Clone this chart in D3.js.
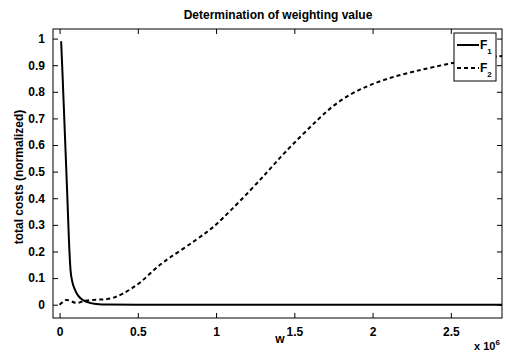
<!DOCTYPE html>
<html><head><meta charset="utf-8">
<script src="https://cdn.jsdelivr.net/npm/d3@7"></script>
<style>body{margin:0;background:#fff}svg{display:block}text{font-family:"Liberation Sans",Arial,sans-serif;fill:#000}</style>
</head><body>
<svg id="c" width="506" height="352"></svg>
<script>
const title = "Determination of weighting value";
const xLabel = "w";
const yLabel = "total costs (normalized)";
const xTicks = [0, 0.5, 1, 1.5, 2, 2.5];
const yTicks = [0, 0.1, 0.2, 0.3, 0.4, 0.5, 0.6, 0.7, 0.8, 0.9, 1];
const seriesNames = ["F1", "F2"];
// x in units of 1e6
const f1X = [0.01, 0.02, 0.03, 0.04, 0.05, 0.06, 0.07, 0.08, 0.1, 0.12, 0.15, 0.2, 0.25, 0.3, 0.5, 1.0, 1.5, 2.0, 2.5, 2.83];
const f1Y = [0.99, 0.85, 0.70, 0.55, 0.40, 0.24, 0.13, 0.09, 0.054, 0.033, 0.017, 0.006, 0.002, 0.001, 0, 0, 0, 0, 0, 0];
const f2X = [0, 0.02, 0.04, 0.07, 0.1, 0.13, 0.16, 0.2, 0.25, 0.3, 0.35, 0.4, 0.46, 0.52, 0.58, 0.64, 0.7, 0.79, 0.87, 0.94, 1.0, 1.09, 1.22, 1.33, 1.43, 1.54, 1.65, 1.75, 1.86, 1.96, 2.07, 2.18, 2.29, 2.39, 2.52, 2.65, 2.83];
const f2Y = [0, 0.01, 0.02, 0.015, 0.005, 0.008, 0.015, 0.018, 0.019, 0.02, 0.026, 0.04, 0.06, 0.085, 0.118, 0.15, 0.176, 0.21, 0.243, 0.272, 0.30, 0.352, 0.43, 0.50, 0.567, 0.632, 0.696, 0.75, 0.792, 0.82, 0.845, 0.864, 0.88, 0.893, 0.91, 0.922, 0.935];

const W = 506, H = 352;
const m = {l: 53, r: 4, t: 29, b: 34};
const svg = d3.select("#c");
const x = d3.scaleLinear().domain([-0.042, 2.827]).range([m.l, W - m.r]);
const y = d3.scaleLinear().domain([-0.05, 1.036]).range([H - m.b, m.t]);

svg.append("clipPath").attr("id", "cp").append("rect")
  .attr("x", m.l).attr("y", m.t).attr("width", W - m.l - m.r).attr("height", H - m.t - m.b);

const line = d3.line().x(d => x(d[0])).y(d => y(d[1])).curve(d3.curveMonotoneX);
const line2 = d3.line().x(d => x(d[0])).y(d => y(d[1])).curve(d3.curveBasis);
const g = svg.append("g").attr("clip-path", "url(#cp)");
g.append("path").datum(f2X.map((v, i) => [v, f2Y[i]]))
  .attr("d", line2).attr("fill", "none").attr("stroke", "#000").attr("stroke-width", 2).attr("stroke-dasharray", "4,3");
g.append("path").datum(f1X.map((v, i) => [v, f1Y[i]]))
  .attr("d", line).attr("fill", "none").attr("stroke", "#000").attr("stroke-width", 2);

// axes (ticks inward, mirrored)
const font = g2 => g2.selectAll("text").style("font-size", "12px").style("font-weight", "bold");
const xb = svg.append("g").attr("transform", `translate(0,${H - m.b})`)
  .call(d3.axisBottom(x).tickValues(xTicks).tickSizeInner(-5).tickSizeOuter(0).tickPadding(9).tickFormat(d3.format("~g")));
const xt = svg.append("g").attr("transform", `translate(0,${m.t})`)
  .call(d3.axisTop(x).tickValues(xTicks).tickSizeInner(-5).tickSizeOuter(0).tickFormat(""));
const yl = svg.append("g").attr("transform", `translate(${m.l},0)`)
  .call(d3.axisLeft(y).tickValues(yTicks).tickSizeInner(-5).tickSizeOuter(0).tickPadding(8).tickFormat(d3.format("~g")));
const yr = svg.append("g").attr("transform", `translate(${W - m.r},0)`)
  .call(d3.axisRight(y).tickValues(yTicks).tickSizeInner(-5).tickSizeOuter(0).tickFormat(""));
[xb, xt, yl, yr].forEach(a => { a.select(".domain").remove(); a.attr("font-family", null).attr("font-size", null); font(a); a.selectAll("line").attr("stroke", "#000"); });
xb.selectAll("text").attr("dy", "0.71em");

svg.append("rect").attr("x", m.l).attr("y", m.t).attr("width", W - m.l - m.r).attr("height", H - m.t - m.b)
  .attr("fill", "none").attr("stroke", "#000").attr("stroke-width", 1);

svg.append("text").attr("x", 278).attr("y", 19).attr("text-anchor", "middle")
  .style("font-size", "12px").style("font-weight", "bold").text(title);
svg.append("text").attr("x", 280).attr("y", 343).attr("text-anchor", "middle")
  .style("font-size", "12px").style("font-weight", "bold").text(xLabel);
const ex = svg.append("text").attr("x", 474).attr("y", 350).style("font-size", "11px").style("font-weight", "bold");
ex.append("tspan").text("x 10");
ex.append("tspan").attr("dy", -5).style("font-size", "8px").text("6");
svg.append("text").attr("transform", "translate(23,177) rotate(-90)").attr("text-anchor", "middle")
  .style("font-size", "12px").style("font-weight", "bold").text(yLabel);

// legend
const lg = svg.append("g");
lg.append("rect").attr("x", 454).attr("y", 33).attr("width", 42).attr("height", 48)
  .attr("fill", "#fff").attr("stroke", "#000").attr("stroke-width", 1);
seriesNames.forEach((n, i) => {
  const yy = 45 + i * 23;
  lg.append("line").attr("x1", 457).attr("x2", 479).attr("y1", yy).attr("y2", yy)
    .attr("stroke", "#000").attr("stroke-width", 2).attr("stroke-dasharray", i ? "4,3" : null);
  const t = lg.append("text").attr("x", 480).attr("y", yy + 4).style("font-size", "12px").style("font-weight", "bold");
  t.append("tspan").text(n[0]);
  t.append("tspan").attr("dy", 5).style("font-size", "8px").text(n.slice(1));
});
</script>
</body></html>
